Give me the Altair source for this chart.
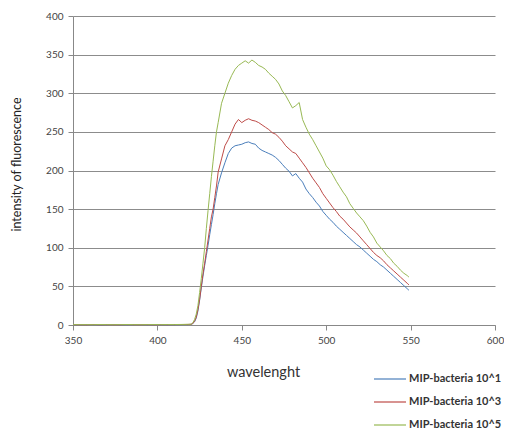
import altair as alt
import pandas as pd

# Shared wavelength grid (nm)
base_wl = [350, 354, 358, 362, 366, 370, 374, 378, 382, 386, 390, 394, 398, 402, 406, 410, 414, 418]
rise_wl = [420, 421, 422, 423, 424, 425, 426, 427, 428, 429, 430, 431, 432, 433, 434, 435, 436]
tail_wl = list(range(438, 549, 2)) + [549]
wavelength = base_wl + rise_wl + tail_wl

base_b = [0.3, 0.2, 0.4, 0.3, 0.2, 0.3, 0.4, 0.2, 0.3, 0.4, 0.3, 0.2, 0.4, 0.3, 0.3, 0.4, 0.5, 0.6]
base_r = [0.4, 0.3, 0.3, 0.5, 0.3, 0.4, 0.3, 0.3, 0.5, 0.4, 0.3, 0.4, 0.3, 0.4, 0.4, 0.5, 0.6, 0.7]
base_g = [0.5, 0.4, 0.5, 0.4, 0.6, 0.5, 0.4, 0.5, 0.6, 0.5, 0.4, 0.5, 0.6, 0.5, 0.6, 0.6, 0.7, 0.9]

blue_rise = [0.8, 2, 4, 9, 18, 32, 48, 63, 77, 90, 103, 117, 130, 143, 157, 170, 182]
blue_tail = [197, 210, 222, 229, 232, 233, 234, 236, 237, 235, 234, 229, 226, 224, 222, 220,
             217, 213, 208, 203, 199, 193, 196, 190, 185, 176, 170, 165, 159, 154, 147, 142,
             137, 133, 128, 124, 120, 116, 112, 108, 104, 101, 97, 93, 89, 85, 82, 78,
             75, 71, 67, 63, 59, 55, 51, 47, 45]

red_rise = [0.9, 2, 5, 10, 20, 33, 50, 66, 80, 95, 110, 125, 140, 150, 165, 180, 198]
red_tail = [215, 232, 240, 250, 260, 266, 262, 265, 267, 265, 264, 262, 259, 256, 253, 249,
            247, 243, 238, 232, 228, 224, 222, 216, 210, 204, 197, 190, 184, 178, 170, 164,
            158, 152, 147, 141, 137, 132, 127, 123, 119, 114, 109, 104, 99, 94, 90, 87,
            83, 78, 74, 70, 66, 62, 58, 54, 52]

green_rise = [1, 3, 7, 14, 25, 42, 60, 80, 100, 125, 148, 170, 192, 212, 232, 250, 262]
green_tail = [287, 300, 313, 323, 331, 336, 339, 342, 339, 343, 340, 336, 334, 331, 326, 322,
              318, 312, 303, 297, 289, 281, 284, 288, 266, 256, 247, 240, 232, 224, 216, 206,
              201, 194, 186, 179, 172, 166, 157, 151, 145, 140, 135, 128, 120, 114, 106, 101,
              96, 90, 86, 80, 76, 71, 67, 64, 62]

series_names = ["MIP-bacteria 10^1", "MIP-bacteria 10^3", "MIP-bacteria 10^5"]
series_values = [base_b + blue_rise + blue_tail,
                 base_r + red_rise + red_tail,
                 base_g + green_rise + green_tail]
colors = ["#4A7EBB", "#BE4B48", "#98B954"]

rows = []
for name, vals in zip(series_names, series_values):
    for w, v in zip(wavelength, vals):
        rows.append({"wavelength": w, "value": v, "series": name})
df = pd.DataFrame(rows)

chart = alt.Chart(df).mark_line(strokeWidth=1).encode(
    x=alt.X("wavelength:Q",
            scale=alt.Scale(domain=[350, 600], nice=False, zero=False),
            axis=alt.Axis(values=[350, 400, 450, 500, 550, 600], title="wavelenght",
                          grid=False, tickSize=5, tickColor="#888888",
                          domainColor="#888888", labelPadding=5, labelFlush=False,
                          titlePadding=20, titleFontSize=14.5, titleFontWeight="normal",
                          titleColor="#333333", titleX=190)),
    y=alt.Y("value:Q",
            scale=alt.Scale(domain=[0, 400], nice=False),
            axis=alt.Axis(values=[0, 50, 100, 150, 200, 250, 300, 350, 400],
                          title="intensity of fluorescence",
                          grid=True, gridColor="#8c8c8c", gridWidth=1.2, gridOpacity=1,
                          tickSize=5, tickColor="#888888", domainColor="#888888",
                          labelPadding=5, labelFlush=False, titlePadding=22,
                          titleFontSize=12.5, titleY=148,
                          titleFontWeight="normal", titleColor="#222222")),
    color=alt.Color("series:N",
                    scale=alt.Scale(domain=series_names, range=colors),
                    legend=alt.Legend(title=None, orient="none", legendX=300, legendY=346,
                                      symbolType="stroke", symbolSize=1024,
                                      symbolStrokeWidth=1.2, labelFontSize=11,
                                      labelFont="Lato", labelColor="#333333",
                                      labelFontWeight="bold",
                                      labelOffset=2, rowPadding=1, labelLimit=200)),
    order="wavelength:Q",
).properties(
    width=422, height=309,
    autosize=alt.AutoSizeParams(type="none"),
    padding={"left": 65, "top": 8, "right": 9, "bottom": 107},
).configure_view(stroke=None).configure_axis(
    labelFont="Lato", titleFont="Lato", labelFontSize=10, labelColor="#444444"
)

chart.save("out.html", embed_options={"renderer": "svg", "actions": False})
